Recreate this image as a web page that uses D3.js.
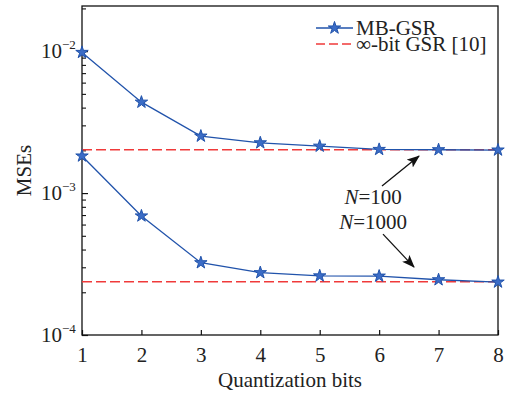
<!DOCTYPE html>
<html>
<head>
<meta charset="utf-8">
<script src="https://cdn.jsdelivr.net/npm/d3@7"></script>
<style>
  html, body { margin: 0; padding: 0; background: #fff; }
  svg { display: block; }
  text { font-family: "Liberation Serif", "Times New Roman", serif; fill: #222; }
</style>
</head>
<body>
<svg id="chart" width="511" height="395"></svg>
<script>
// Quantization bits on the x axis
const bits = [1, 2, 3, 4, 5, 6, 7, 8];
// MB-GSR mean squared error for each network size
const mseN100 = [0.0098, 0.00437, 0.00252, 0.00226, 0.00214, 0.00203, 0.00202, 0.00201];
const mseN1000 = [0.001825, 0.00069, 0.000323, 0.000275, 0.000261, 0.00026, 0.000245, 0.000236];
// Unquantized (infinite-bit) GSR reference levels
const infBitN100 = 0.00202;
const infBitN1000 = 0.000237;
// Axis ticks
const xTicks = [1, 2, 3, 4, 5, 6, 7, 8];
const yMajor = [1e-4, 1e-3, 1e-2];
const yExponents = ["\u22124", "\u22123", "\u22122"];
const yMin = 1e-4, yMax = 0.0208;

const svg = d3.select("#chart");
const margin = { left: 82, right: 13, top: 6, bottom: 60 };
const W = 511, H = 395;

const x = d3.scaleLinear().domain([1, 8]).range([margin.left, W - margin.right]);
const y = d3.scaleLog().domain([yMin, yMax]).range([H - margin.bottom, margin.top]);

const blue = "#2153ab", starFill = "#3b6cc6", red = "#f03a3a";

// frame
svg.append("rect")
  .attr("x", x(1)).attr("y", y(yMax))
  .attr("width", x(8) - x(1)).attr("height", y(yMin) - y(yMax))
  .attr("fill", "none").attr("stroke", "#111").attr("stroke-width", 1.3);

// x axis, ticks pointing inward
const xAxis = svg.append("g")
  .attr("transform", `translate(0,${y(yMin)})`)
  .call(d3.axisBottom(x).tickValues(xTicks).tickSize(-5).tickPadding(12).tickFormat(d3.format("d")));
xAxis.select(".domain").remove();
xAxis.selectAll("line").attr("stroke", "#111").attr("stroke-width", 1.2);
xAxis.selectAll("text").attr("font-size", 21).attr("fill", "#222");

// y axis major and minor ticks, inward
const yAxis = svg.append("g")
  .attr("transform", `translate(${x(1)},0)`)
  .call(d3.axisLeft(y).tickValues(yMajor).tickSize(-6).tickFormat(""));
yAxis.select(".domain").remove();
yAxis.selectAll("line").attr("stroke", "#111").attr("stroke-width", 1.2);

const yMinor = [];
for (let e = -4; e <= -2; e++) for (let m = 2; m <= 9; m++) {
  const v = m * Math.pow(10, e);
  if (v < yMax) yMinor.push(v);
}
const yAxisMinor = svg.append("g")
  .attr("transform", `translate(${x(1)},0)`)
  .call(d3.axisLeft(y).tickValues(yMinor).tickSize(-4).tickFormat(""));
yAxisMinor.select(".domain").remove();
yAxisMinor.selectAll("line").attr("stroke", "#111").attr("stroke-width", 1.1);

// y tick labels as 10 with superscript exponent
yMajor.forEach((v, i) => {
  const t = svg.append("text")
    .attr("x", x(1) - 41).attr("y", y(v) + 7)
    .attr("font-size", 21);
  t.append("tspan").text("10");
  t.append("tspan").attr("dy", -9).attr("font-size", 13).text(yExponents[i]);
});

// axis titles
svg.append("text")
  .attr("x", (x(1) + x(8)) / 2).attr("y", 387)
  .attr("text-anchor", "middle").attr("font-size", 21)
  .text("Quantization bits");
svg.append("text")
  .attr("transform", `translate(31,${(y(yMin) + y(yMax)) / 2}) rotate(-90)`)
  .attr("text-anchor", "middle").attr("font-size", 21)
  .text("MSEs");

// dashed reference levels
[infBitN100, infBitN1000].forEach(v => {
  svg.append("line")
    .attr("x1", x(1)).attr("x2", x(8))
    .attr("y1", y(v)).attr("y2", y(v))
    .attr("stroke", red).attr("stroke-width", 1.4)
    .attr("stroke-dasharray", "10,4");
});

// star marker
const star = d3.symbol().type(d3.symbolStar).size(48);

function series(values) {
  const pts = bits.map((b, i) => [b, values[i]]);
  svg.append("path")
    .datum(pts)
    .attr("d", d3.line().x(d => x(d[0])).y(d => y(d[1])))
    .attr("fill", "none").attr("stroke", blue).attr("stroke-width", 1.3);
  svg.append("g").selectAll("path")
    .data(pts).join("path")
    .attr("d", star)
    .attr("transform", d => `translate(${x(d[0])},${y(d[1])})`)
    .attr("fill", starFill).attr("stroke", blue).attr("stroke-width", 1);
}
series(mseN100);
series(mseN1000);

// legend
const lx0 = 316, lx1 = 353;
svg.append("line").attr("x1", lx0).attr("x2", lx1).attr("y1", 28).attr("y2", 28)
  .attr("stroke", blue).attr("stroke-width", 1.3);
svg.append("path").attr("d", star).attr("transform", `translate(${(lx0 + lx1) / 2},28)`)
  .attr("fill", starFill).attr("stroke", blue).attr("stroke-width", 1);
svg.append("line").attr("x1", lx0).attr("x2", lx1).attr("y1", 44).attr("y2", 44)
  .attr("stroke", red).attr("stroke-width", 1.4).attr("stroke-dasharray", "9,4");
svg.append("text").attr("x", lx1 + 3).attr("y", 35).attr("font-size", 21).text("MB-GSR");
svg.append("text").attr("x", lx1 + 3).attr("y", 51).attr("font-size", 21).text("\u221E-bit GSR [10]");

// annotations with arrows
const arrowHead = svg.append("defs").append("marker")
  .attr("id", "head").attr("viewBox", "0 0 13 10")
  .attr("refX", 12).attr("refY", 5)
  .attr("markerWidth", 13).attr("markerHeight", 10)
  .attr("markerUnits", "userSpaceOnUse")
  .attr("orient", "auto");
arrowHead.append("path").attr("d", "M0,0 L13,5 L0,10 L3,5 Z").attr("fill", "#111");

function arrow(from, to) {
  svg.append("line")
    .attr("x1", x(from[0])).attr("y1", y(from[1]))
    .attr("x2", x(to[0])).attr("y2", y(to[1]))
    .attr("stroke", "#111").attr("stroke-width", 1.3)
    .attr("marker-end", "url(#head)");
}
arrow([6.048, 0.00112], [6.671, 0.001824]);
arrow([6.065, 0.000514], [6.587, 0.000301]);

function nLabel(xv, yv, num) {
  const t = svg.append("text")
    .attr("x", x(xv)).attr("y", y(yv))
    .attr("text-anchor", "middle").attr("font-size", 21);
  t.append("tspan").attr("font-style", "italic").text("N");
  t.append("tspan").text("=" + num);
}
nLabel(5.9, 0.000837, "100");
nLabel(5.9, 0.000557, "1000");
</script>
</body>
</html>
